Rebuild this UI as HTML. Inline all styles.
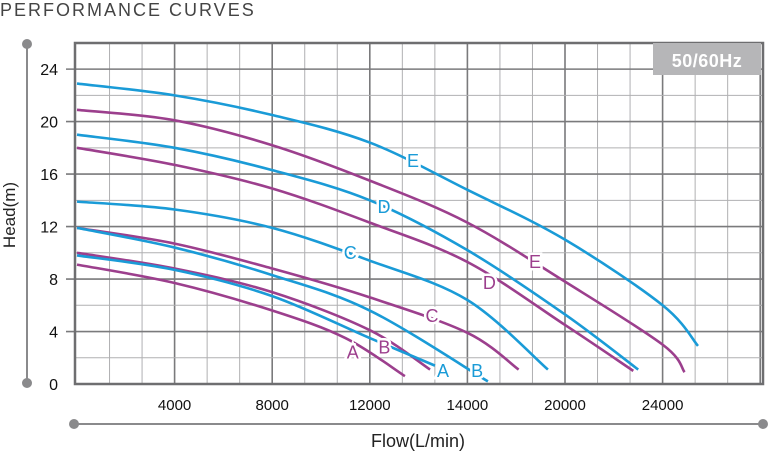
<!DOCTYPE html>
<html><head><meta charset="utf-8">
<style>
body{margin:0;background:#fff;}
svg{display:block;font-family:"Liberation Sans",sans-serif;}
</style></head>
<body>
<svg id="chart" width="768" height="454" viewBox="0 0 768 454">
<text x="0" y="16" font-size="18" fill="#444" letter-spacing="2">PERFORMANCE CURVES</text>
<g id="grid"></g>
<g id="curves"></g>
<rect x="653" y="43" width="108" height="32" fill="#b6b6b8"/>
<text x="707" y="67" font-size="18" font-weight="bold" fill="#fff" text-anchor="middle" letter-spacing="0.5">50/60Hz</text>
<line x1="27" y1="44" x2="27" y2="383" stroke="#8a8a8c" stroke-width="2"/>
<circle cx="27" cy="44" r="5" fill="#8a8a8c"/>
<circle cx="27" cy="383" r="5" fill="#8a8a8c"/>
<line x1="74" y1="424" x2="763" y2="424" stroke="#8a8a8c" stroke-width="2"/>
<circle cx="74" cy="424" r="5" fill="#8a8a8c"/>
<circle cx="763" cy="424" r="5" fill="#8a8a8c"/>
<text x="418" y="447" font-size="18" fill="#222" text-anchor="middle">Flow(L/min)</text>
<text transform="translate(15,215) rotate(-90)" font-size="17" fill="#222" text-anchor="middle">Head(m)</text>
</svg>
<script>
const xTickValues=[4000,8000,12000,16000,20000,24000];
const xTickLabels=["4000","8000","12000","14000","20000","24000"];
const yTickValues=[0,4,8,12,16,20,24];
const curveNames=["blue-E","magenta-E","blue-D","magenta-D","blue-C","magenta-C","blue-B","magenta-B","blue-A","magenta-A"];
const curveLetters=["E","E","D","D","C","C","B","B","A","A"];
const curveFlows=[
[0,4000,8000,12000,16000,20000,24000,25450],
[0,4000,8000,12000,16000,20000,24000,24900],
[0,4000,8000,12000,16000,20000,23000],
[0,4000,8000,12000,16000,20000,22800],
[0,4000,8000,12000,16000,19300],
[0,4000,8000,12000,16000,18100],
[0,4000,8000,12000,16840],
[0,4000,8000,12000,14470],
[0,4000,8000,12000,14670],
[0,4000,8000,11000,13440]];
const curveHeads=[
[22.9,22.0,20.5,18.4,14.8,11.0,6.0,2.9],
[20.9,20.1,18.2,15.5,12.3,7.8,3.0,0.9],
[19.0,18.0,16.3,14.0,10.2,5.3,1.1],
[18.0,16.7,14.9,12.3,9.3,4.5,1.0],
[13.9,13.3,11.9,9.4,6.4,1.1],
[11.9,10.7,8.8,6.6,3.9,1.1],
[11.9,10.4,8.3,5.6,0.2],
[10.0,8.8,7.0,4.1,1.1],
[9.8,8.7,6.7,3.5,1.4],
[9.1,7.7,5.6,3.5,0.6]];
const labelFlows=[13770,18770,12580,16900,11200,14550,16400,12600,15000,11300];
const labelHeads=[17.0,9.3,13.5,7.7,10.0,5.2,1.0,2.8,1.0,2.4];

const NS="http://www.w3.org/2000/svg";
const X0=77,PX_PER_FLOW=97.6/4000,Y0=384,PX_PER_M=13.12;
const xs=v=>X0+v*PX_PER_FLOW;
const ys=v=>Y0-v*PX_PER_M;
const L=75,R=763,T=43,B=384;
const grid=document.getElementById('grid');
function mk(tag,attrs,parent){const e=document.createElementNS(NS,tag);for(const k in attrs)e.setAttribute(k,attrs[k]);parent.appendChild(e);return e;}
for(let k=1;k<=21;k++){
  const f=k*4000/3;
  const major=k%3===0;
  const l=mk('line',{x1:xs(f),x2:xs(f),y1:T,y2:B,stroke:major?'#7a7a7c':'#b0b0b2','stroke-width':major?1.6:1},grid);
  
  
}
for(let h=2;h<=26;h+=2){
  const y=ys(h);if(y<T)break;
  const major=h%4===0;
  const l=mk('line',{x1:major?66:L,x2:R,y1:y,y2:y,stroke:major?'#7a7a7c':'#b0b0b2','stroke-width':major?1.6:1},grid);
  
  
}
const frame=mk('rect',{x:L,y:T,width:R-L,height:B-T,fill:'none',stroke:'#6e6e70','stroke-width':2.5},grid);


yTickValues.forEach(v=>{
  const t=mk('text',{x:58,y:ys(v)+6,'font-size':16,fill:'#111','text-anchor':'end'},grid);
  t.textContent=String(v);
  
  
});
xTickValues.forEach((v,i)=>{
  const t=mk('text',{x:xs(v),y:410,'font-size':15,fill:'#111','text-anchor':'middle'},grid);
  t.textContent=xTickLabels[i];
  
  
});
function spline(p){
  let d=`M${p[0][0]},${p[0][1]}`;
  for(let i=0;i<p.length-1;i++){
    const p0=p[i-1]||p[i],p1=p[i],p2=p[i+1],p3=p[i+2]||p2;
    const c1=[p1[0]+(p2[0]-p0[0])/6,p1[1]+(p2[1]-p0[1])/6];
    const c2=[p2[0]-(p3[0]-p1[0])/6,p2[1]-(p3[1]-p1[1])/6];
    d+=` C${c1[0]},${c1[1]} ${c2[0]},${c2[1]} ${p2[0]},${p2[1]}`;
  }
  return d;
}
const cg=document.getElementById('curves');
curveNames.forEach((n,i)=>{
  const col=n.startsWith('blue')?'#1a9bd7':'#9c3f8d';
  const pts=curveFlows[i].map((f,j)=>[xs(f),ys(curveHeads[i][j])]);
  const p=mk('path',{d:spline(pts),fill:'none',stroke:col,'stroke-width':2.6},cg);
  
  
});
curveNames.forEach((n,i)=>{
  const col=n.startsWith('blue')?'#1a9bd7':'#9c3f8d';
  const t=mk('text',{x:xs(labelFlows[i]),y:ys(labelHeads[i])+6,'font-size':18,fill:col,'text-anchor':'middle',stroke:'#fff','stroke-width':5,'paint-order':'stroke'},cg);
  t.textContent=curveLetters[i];
  
  
});
</script>
</body></html>
